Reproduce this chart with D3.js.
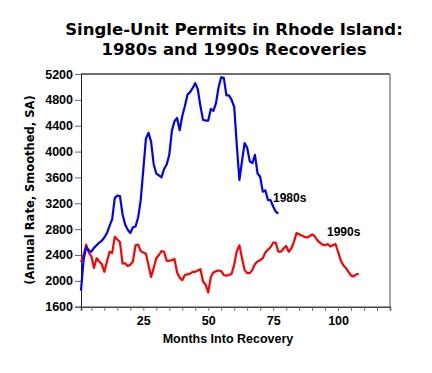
<!DOCTYPE html>
<html>
<head>
<meta charset="utf-8">
<script src="https://cdn.jsdelivr.net/npm/d3@7"></script>
<style>
  body { margin: 0; background: #fff; }
  svg { display: block; }
  .tick text { font-family: "Liberation Sans", Arial, sans-serif; font-weight: bold; font-size: 12.5px; fill: #000; }
</style>
</head>
<body>
<svg id="chart" width="432" height="373"></svg>
<script>
// monthly values, 1980s recovery (months 1..77)
const permits1980s = [1850, 2330, 2520, 2470, 2450, 2510, 2550, 2590, 2620, 2670,
    2740, 2850, 2950, 3280, 3320, 3310, 3030, 2870, 2790, 2740,
    2830, 2840, 2980, 3250, 3720, 4200, 4290, 4150, 3800, 3660,
    3630, 3600, 3730, 3800, 3950, 4320, 4470, 4520, 4330, 4550,
    4700, 4880, 4920, 4980, 5060, 4960, 4700, 4490, 4480, 4480,
    4660, 4630, 4750, 5000, 5150, 5140, 4870, 4870, 4800, 4690,
    4100, 3560, 3850, 4130, 4060, 3850, 3820, 3950, 3660, 3610,
    3380, 3400, 3250, 3250, 3150, 3070, 3040];

// monthly values, 1990s recovery (months 1..108)
const permits1990s = [2290, 2400, 2560, 2440, 2380, 2200, 2350, 2300, 2260, 2140,
    2300, 2450, 2430, 2680, 2640, 2600, 2270, 2270, 2230, 2250,
    2300, 2550, 2560, 2460, 2440, 2420, 2240, 2060, 2200, 2350,
    2400, 2460, 2450, 2310, 2310, 2320, 2340, 2130, 2050, 2010,
    2090, 2100, 2110, 2140, 2140, 2160, 2180, 1990, 1940, 1820,
    2060, 2130, 2150, 2160, 2150, 2090, 2080, 2090, 2110, 2250,
    2460, 2550, 2350, 2170, 2120, 2120, 2170, 2260, 2300, 2320,
    2350, 2440, 2480, 2520, 2590, 2590, 2450, 2450, 2500, 2540,
    2450, 2500, 2600, 2740, 2720, 2700, 2680, 2670, 2690, 2720,
    2690, 2630, 2590, 2560, 2550, 2570, 2530, 2550, 2570, 2450,
    2320, 2240, 2200, 2140, 2080, 2070, 2100, 2110];

const yTicks = [1600, 2000, 2400, 2800, 3200, 3600, 4000, 4400, 4800, 5200];
const xLabelTicks = [25, 50, 75, 100];
const seriesNames = ['1980s', '1990s'];

const svg = d3.select('#chart');
const plot = {left: 81, right: 390, top: 74, bottom: 306.7};

const x = d3.scaleLinear().domain([1, 120]).range([plot.left, plot.right]);
const y = d3.scaleLinear().domain([1600, 5200]).range([plot.bottom, plot.top]);

// title
const title = svg.append('text')
    .attr('text-anchor', 'middle')
    .attr('font-family', '"DejaVu Sans", Verdana, sans-serif')
    .attr('font-weight', 'bold')
    .attr('font-size', 16.5);
title.append('tspan').attr('x', 234).attr('y', 34.5).text('Single-Unit Permits in Rhode Island:');
title.append('tspan').attr('x', 234).attr('y', 55).text('1980s and 1990s Recoveries');

// frame: top and right in grey
svg.append('line')
    .attr('x1', plot.left).attr('x2', plot.right)
    .attr('y1', plot.top).attr('y2', plot.top)
    .attr('stroke', '#6e6e6e').attr('stroke-width', 2);
svg.append('line')
    .attr('x1', plot.right).attr('x2', plot.right)
    .attr('y1', plot.top).attr('y2', plot.bottom)
    .attr('stroke', '#8a8a8a').attr('stroke-width', 1.5);

// y axis
const yAxis = svg.append('g')
    .attr('transform', 'translate(' + plot.left + ',0)')
    .call(d3.axisLeft(y).tickValues(yTicks).tickSize(6).tickPadding(2).tickFormat(d3.format('d')));
yAxis.select('.domain').attr('stroke', '#222');
yAxis.selectAll('.tick line').attr('stroke', '#666');

// x axis: minor ticks every 5 months, labels at 25s
const xAxis = svg.append('g')
    .attr('transform', 'translate(0,' + plot.bottom + ')')
    .call(d3.axisBottom(x).tickValues(d3.range(5, 121, 5)).tickSize(4).tickPadding(5)
        .tickFormat((d) => xLabelTicks.includes(d) ? d : ''));
xAxis.select('.domain').attr('stroke', '#444').attr('stroke-width', 1.5);
xAxis.selectAll('.tick line').attr('stroke', '#666');

// axis titles
svg.append('text')
    .attr('x', 228).attr('y', 343)
    .attr('text-anchor', 'middle')
    .attr('font-family', '"Liberation Sans", Arial, sans-serif')
    .attr('font-weight', 'bold')
    .attr('font-size', 12.5)
    .text('Months Into Recovery');

svg.append('text')
    .attr('transform', 'translate(34,190) rotate(-90)')
    .attr('text-anchor', 'middle')
    .attr('font-family', '"DejaVu Sans", Verdana, sans-serif')
    .attr('font-weight', 'bold')
    .attr('font-size', 11.5)
    .text('(Annual Rate, Smoothed, SA)');

// lines
const line = d3.line()
    .x((d, i) => x(i + 1))
    .y((d) => y(d));

svg.append('path')
    .datum(permits1990s)
    .attr('fill', 'none')
    .attr('stroke', '#ff0000')
    .attr('stroke-width', 2.2)
    .attr('stroke-linejoin', 'round')
    .attr('d', line);

svg.append('path')
    .datum(permits1980s)
    .attr('fill', 'none')
    .attr('stroke', '#0000ff')
    .attr('stroke-width', 2.2)
    .attr('stroke-linejoin', 'round')
    .attr('d', line);

// series labels
svg.append('text')
    .attr('x', 273).attr('y', 201.5)
    .attr('font-family', '"Liberation Sans", Arial, sans-serif')
    .attr('font-weight', 'bold')
    .attr('font-size', 12)
    .text(seriesNames[0]);
svg.append('text')
    .attr('x', 327).attr('y', 236)
    .attr('font-family', '"Liberation Sans", Arial, sans-serif')
    .attr('font-weight', 'bold')
    .attr('font-size', 12)
    .text(seriesNames[1]);
</script>
</body>
</html>
